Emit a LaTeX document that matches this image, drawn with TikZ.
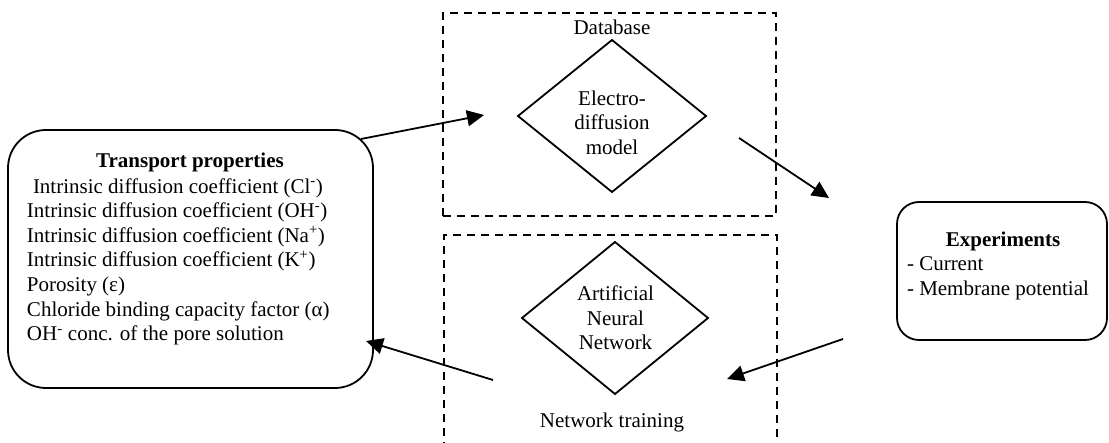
\documentclass[tikz,border=0pt]{standalone}
\usepackage{fontspec}
\setmainfont{Liberation Serif}
\usetikzlibrary{shapes.geometric,arrows.meta}
\begin{document}
\begin{tikzpicture}[x=1pt,y=-1pt,
  every node/.style={font=\fontsize{21}{24.6}\selectfont, inner sep=0pt, outer sep=0pt},
  roundbox/.style={draw, line width=1.8pt, rounded corners=#1},
  groupbox/.style={draw, line width=1.5pt, dash pattern=on 8pt off 6pt},
  dia/.style={draw, diamond, line width=1.8pt, inner sep=0pt},
  flow/.style={line width=1.8pt, -{Triangle[length=17pt,width=16pt]}},
  lbl/.style={anchor=base},
]
\useasboundingbox (0,0) rectangle (1109,443);

% group frames
\node[groupbox, minimum width=333pt, minimum height=203pt] (G1) at (609.5,114.5) {};
\coordinate (G2a) at (444,450);
\coordinate (G2b) at (444,235);
\coordinate (G2c) at (777,235);
\coordinate (G2d) at (777,450);
\draw[groupbox] (G2a) -- (G2b) -- (G2c) -- (G2d);

% left box
\node[roundbox=38pt, minimum width=365pt, minimum height=258pt] (L) at (190.5,259) {};
\node[lbl] (Lt) at (190,168) {\textbf{Transport properties}};
\node[anchor=north west, align=left] (Ll) at (27,178.4) {\hspace*{6pt}Intrinsic diffusion coefficient (Cl\textsuperscript{-})\\
Intrinsic diffusion coefficient (OH\textsuperscript{-})\\
Intrinsic diffusion coefficient (Na\textsuperscript{+})\\
Intrinsic diffusion coefficient (K\textsuperscript{+})\\
Porosity (ε)\\
Chloride binding capacity factor (α)\\
OH\textsuperscript{-} conc. of the pore solution};

% diamonds
\node[lbl] (db) at (612,35) {Database};
\node[dia, minimum width=188pt, minimum height=152pt] (D1) at (612,116) {};
\node[anchor=north, align=center] (D1t) at (612,90.7) {Electro-\\diffusion\\model};

\node[dia, minimum width=186pt, minimum height=152pt] (D2) at (615,318) {};
\node[anchor=north, align=center] (D2t) at (615.5,285.7) {Artificial\\Neural\\Network};
\node[lbl] (nt) at (612,428) {Network training};

% right box
\node[roundbox=22pt, minimum width=210pt, minimum height=138pt] (R) at (1002,271) {};
\node[lbl] (Rt) at (1003,247) {\textbf{Experiments}};
\node[anchor=north west, align=left] (Rl) at (907,256.8) {- Current\\- Membrane potential};

% arrows
\coordinate (a1s) at (361,139);
\coordinate (a1e) at (484,115);
\coordinate (a2s) at (739,138);
\coordinate (a2e) at (829,198);
\coordinate (a3s) at (843,339);
\coordinate (a3e) at (727,379);
\coordinate (a4s) at (493,380);
\coordinate (a4e) at (366,341);
\draw[flow] (a1s) -- (a1e);
\draw[flow] (a2s) -- (a2e);
\draw[flow] (a3s) -- (a3e);
\draw[flow] (a4s) -- (a4e);
\end{tikzpicture}
\end{document}
